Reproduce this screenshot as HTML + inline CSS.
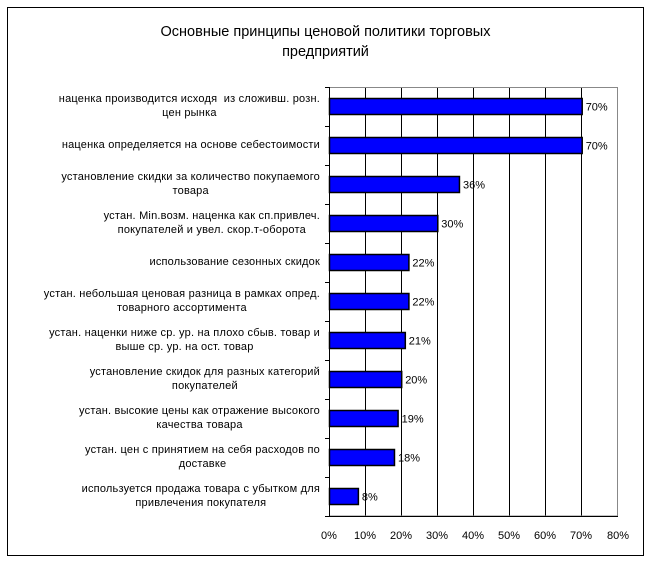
<!DOCTYPE html>
<html><head><meta charset="utf-8"><style>
body{margin:0;background:#fff;width:651px;height:561px;position:relative;overflow:hidden;font-family:"Liberation Sans",sans-serif;}
.frame{position:absolute;left:7px;top:7px;width:635px;height:547px;border:1px solid #000;}
.title{position:absolute;left:0;width:651px;top:22px;text-align:center;font-size:14.5px;line-height:20px;color:#000;}
.lbl{position:absolute;right:331px;font-size:11px;line-height:14px;text-align:center;white-space:pre;color:#000;letter-spacing:0.2px;}
</style></head><body>
<div class="frame"></div>
<div class="title">Основные принципы ценовой политики торговых<br>предприятий</div>
<svg width="651" height="561" style="position:absolute;left:0;top:0" font-family="Liberation Sans, sans-serif" font-size="11">
<g stroke="#000" stroke-width="1">
<line x1="365.5" y1="87" x2="365.5" y2="516"/><line x1="401.5" y1="87" x2="401.5" y2="516"/>
<line x1="437.5" y1="87" x2="437.5" y2="516"/><line x1="473.5" y1="87" x2="473.5" y2="516"/>
<line x1="509.5" y1="87" x2="509.5" y2="516"/><line x1="545.5" y1="87" x2="545.5" y2="516"/>
<line x1="581.5" y1="87" x2="581.5" y2="516"/>
</g>
<rect x="329.5" y="87.5" width="288" height="428.5" fill="none" stroke="#888"/>
<g stroke="#000">
<line x1="329.5" y1="87" x2="329.5" y2="516"/><line x1="329" y1="516.5" x2="618" y2="516.5"/>
</g>
<g stroke="#000" id="ticks"></g>
<g id="bars"></g>
<g text-anchor="middle" fill="#000">
<text x="329" y="539">0%</text><text x="365" y="539">10%</text><text x="401" y="539">20%</text>
<text x="437" y="539">30%</text><text x="473" y="539">40%</text><text x="509" y="539">50%</text>
<text x="545" y="539">60%</text><text x="581" y="539">70%</text><text x="618" y="539">80%</text>
</g>
</svg>
<div id="labels"></div>
<script>
var v=[70,70,36,30,22,22,21,20,19,18,8];
var L=["наценка производится исходя  из сложивш. розн.\nцен рынка","наценка определяется на основе себестоимости","установление скидки за количество покупаемого\nтовара","устан. Min.возм. наценка как сп.привлеч.\nпокупателей и увел. скор.т-оборота","использование сезонных скидок","устан. небольшая ценовая разница в рамках опред.\nтоварного ассортимента","устан. наценки ниже ср. ур. на плохо сбыв. товар и\nвыше ср. ур. на ост. товар","установление скидок для разных категорий\nпокупателей","устан. высокие цены как отражение высокого\nкачества товара","устан. цен с принятием на себя расходов по\nдоставке","используется продажа товара с убытком для\nпривлечения покупателя"];
var ns="http://www.w3.org/2000/svg",b=document.getElementById("bars"),t=document.getElementById("ticks"),lb=document.getElementById("labels");
for(var i=0;i<=11;i++){var y=Math.round(87+39*i)+0.5;var l=document.createElementNS(ns,"line");l.setAttribute("x1",325);l.setAttribute("x2",329);l.setAttribute("y1",y);l.setAttribute("y2",y);t.appendChild(l);}
for(var i=0;i<11;i++){var c=87+19.5+39*i;var w=v[i]*3.61;
var r=document.createElementNS(ns,"rect");r.setAttribute("x",329.5);r.setAttribute("y",c-8);r.setAttribute("width",w);r.setAttribute("height",16);r.setAttribute("fill","#0000ff");r.setAttribute("stroke","#000");r.setAttribute("stroke-width","1.5");b.appendChild(r);
var tx=document.createElementNS(ns,"text");tx.setAttribute("x",329+w+4);tx.setAttribute("y",c+4);tx.textContent=v[i]+"%";b.appendChild(tx);
var d=document.createElement("div");d.className="lbl";var two=L[i].indexOf("\n")>=0;d.style.top=(c-(two?14:7)-1)+"px";d.textContent=L[i];lb.appendChild(d);}
</script>
</body></html>
